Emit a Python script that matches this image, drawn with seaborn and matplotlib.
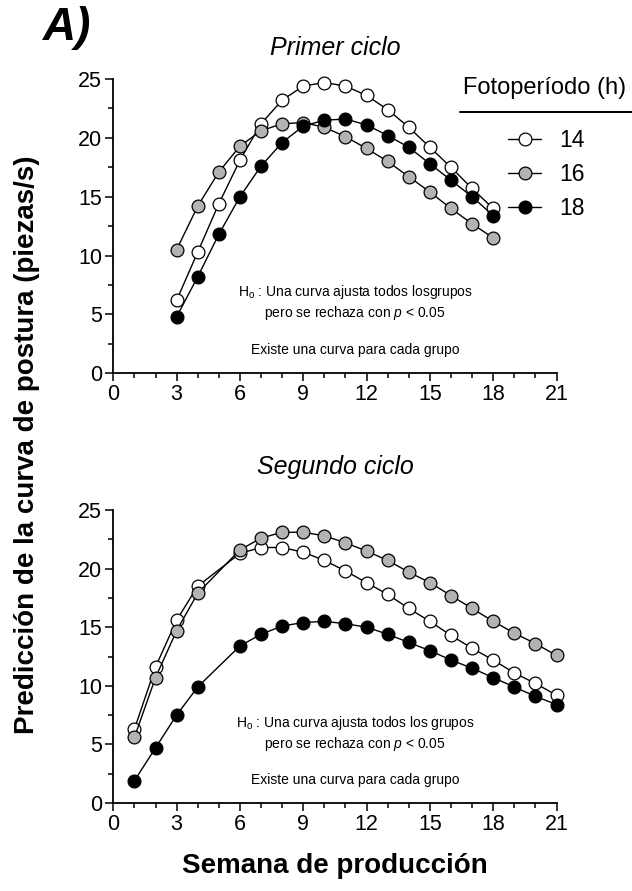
import matplotlib
matplotlib.use("Agg")
import matplotlib.pyplot as plt
from matplotlib.lines import Line2D
from matplotlib.ticker import MultipleLocator
from matplotlib import font_manager
import seaborn as sns
import pandas as pd

# ---------------- data ----------------
groups = ["14", "16", "18"]
face_colors = {"14": "white", "16": "#b3b3b3", "18": "black"}

weeks_c1 = [3, 4, 5, 6, 7, 8, 9, 10, 11, 12, 13, 14, 15, 16, 17, 18]
c1_14 = [6.2, 10.3, 14.4, 18.1, 21.2, 23.2, 24.4, 24.7, 24.4, 23.6, 22.4, 20.9, 19.2, 17.5, 15.7, 14.0]
c1_16 = [10.5, 14.2, 17.1, 19.3, 20.6, 21.2, 21.3, 20.9, 20.1, 19.1, 18.0, 16.7, 15.4, 14.0, 12.7, 11.5]
c1_18 = [4.8, 8.2, 11.8, 15.0, 17.6, 19.6, 21.0, 21.5, 21.6, 21.1, 20.2, 19.2, 17.8, 16.4, 15.0, 13.4]

weeks_c2 = [1, 2, 3, 4, 6, 7, 8, 9, 10, 11, 12, 13, 14, 15, 16, 17, 18, 19, 20, 21]
c2_14 = [6.3, 11.6, 15.6, 18.5, 21.3, 21.8, 21.8, 21.4, 20.7, 19.8, 18.8, 17.8, 16.6, 15.5, 14.3, 13.2, 12.2, 11.1, 10.2, 9.2]
c2_16 = [5.6, 10.7, 14.7, 17.9, 21.6, 22.6, 23.1, 23.1, 22.8, 22.2, 21.5, 20.7, 19.7, 18.8, 17.7, 16.6, 15.5, 14.5, 13.6, 12.6]
c2_18 = [1.9, 4.7, 7.5, 9.9, 13.4, 14.4, 15.1, 15.4, 15.5, 15.3, 15.0, 14.4, 13.7, 13.0, 12.2, 11.5, 10.7, 9.9, 9.1, 8.4]

x_ticks = [0, 3, 6, 9, 12, 15, 18, 21]
y_ticks = [0, 5, 10, 15, 20, 25]

def make_df(weeks, s14, s16, s18):
    rows = []
    for g, vals in zip(groups, [s14, s16, s18]):
        for w, v in zip(weeks, vals):
            rows.append({"semana": w, "valor": v, "foto": g})
    return pd.DataFrame(rows)

df1 = make_df(weeks_c1, c1_14, c1_16, c1_18)
df2 = make_df(weeks_c2, c2_14, c2_16, c2_18)

# ---------------- style ----------------
sns.set_theme(style="ticks")
plt.rcParams["font.family"] = ["Liberation Sans", "DejaVu Sans"]
plt.rcParams["text.color"] = "black"
plt.rcParams["axes.labelcolor"] = "black"
plt.rcParams["xtick.color"] = "black"
plt.rcParams["ytick.color"] = "black"
plt.rcParams["mathtext.fontset"] = "custom"
plt.rcParams["mathtext.rm"] = "Liberation Sans"
plt.rcParams["mathtext.it"] = "Liberation Sans:italic"
plt.rcParams["mathtext.bf"] = "Liberation Sans:bold"

W, H = 632, 891
fig = plt.figure(figsize=(W / 100, H / 100), dpi=100)

def fx(px):
    return px / W

def fy(py):
    return 1 - py / H

ax_left = fx(113.3)
ax_w = fx(556.5) - fx(113.3)
ax1 = fig.add_axes([ax_left, fy(373.3), ax_w, fy(79) - fy(373.3)])
ax2 = fig.add_axes([ax_left, fy(803), ax_w, fy(510) - fy(803)])

for ax, df in [(ax1, df1), (ax2, df2)]:
    for g in groups:
        sub = df[df["foto"] == g]
        sns.lineplot(data=sub, x="semana", y="valor", ax=ax, color="black",
                     linewidth=1.0, marker="o", markersize=9.2,
                     markerfacecolor=face_colors[g], markeredgecolor="black",
                     markeredgewidth=0.9, clip_on=False, legend=False,
                     estimator=None, sort=True)
    ax.set_xlim(0, 21)
    ax.set_ylim(0, 25)
    ax.set_xticks(x_ticks)
    ax.set_yticks(y_ticks)
    ax.xaxis.set_minor_locator(MultipleLocator(1))
    ax.yaxis.set_minor_locator(MultipleLocator(2.5))
    ax.tick_params(axis="both", which="major", direction="out", length=6,
                   width=1.1, labelsize=15.5, pad=2, color="black", labelcolor="black")
    ax.tick_params(axis="both", which="minor", direction="out", length=3.5,
                   width=1.1, color="black")
    ax.set_xlabel("")
    ax.set_ylabel("")
    for sp in ["top", "right"]:
        ax.spines[sp].set_visible(False)
    for sp in ["left", "bottom"]:
        ax.spines[sp].set_linewidth(1.3)
        ax.spines[sp].set_color("black")
    ax.set_facecolor("white")

fig.text(fx(335), fy(48), "Primer ciclo", fontsize=18, style="italic",
         ha="center", va="center")
fig.text(fx(335), fy(467), "Segundo ciclo", fontsize=18, style="italic",
         ha="center", va="center")

# annotations
ann_fs = 10
for ax, ys in [(ax1, (292, 313, 350)), (ax2, (723, 744, 780))]:
    kw = dict(ha="center", va="center", fontsize=ann_fs)
    fig.text(fx(355), fy(ys[0]), r"H$_{\mathrm{o}}$ : Una curva ajusta todos " +
             ("losgrupos" if ax is ax1 else "los grupos"), **kw)
    fig.text(fx(355), fy(ys[1]), r"pero se rechaza con $p$ < 0.05", **kw)
    fig.text(fx(355), fy(ys[2]), "Existe una curva para cada grupo", **kw)

# legend
handles = [Line2D([], [], color="black", linewidth=1.0, marker="o", markersize=9.2,
                  markerfacecolor=face_colors[g], markeredgecolor="black",
                  markeredgewidth=0.9) for g in groups]
leg = ax1.legend(handles, groups, loc="upper left",
                 bbox_to_anchor=(fx(508), fy(129)), bbox_transform=fig.transFigure,
                 frameon=False, fontsize=16.5, handlelength=1.45, handletextpad=0.8,
                 labelspacing=0.47, borderpad=0, borderaxespad=0)
fig.text(fx(545), fy(88), "Fotoperíodo (h)", ha="center", va="center", fontsize=17)
fig.add_artist(Line2D([fx(460), fx(632)], [fy(112), fy(112)], color="black",
                      linewidth=1.4, transform=fig.transFigure))

# panel label and axis labels
fig.text(fx(43), fy(28), "A)", fontsize=33, fontweight="bold", style="italic",
         ha="left", va="center")
fig.text(fx(27), fy(445), "Predicción de la curva de postura (piezas/s)",
         rotation=90, ha="center", va="center", fontsize=20, fontweight="bold")
fig.text(fx(335), fy(866), "Semana de producción", ha="center", va="center",
         fontsize=20, fontweight="bold")

fig.savefig("out.png", dpi=100, facecolor="white")
